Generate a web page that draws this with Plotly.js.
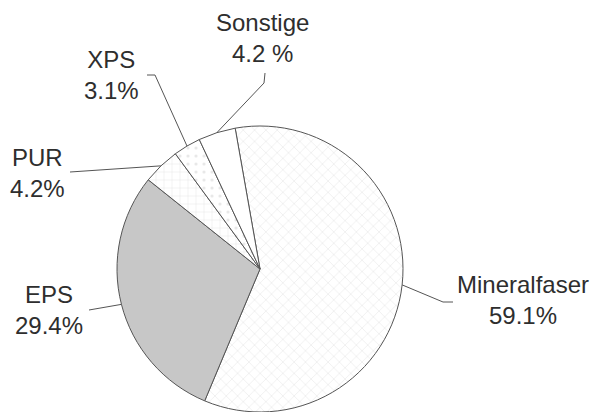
<!DOCTYPE html>
<html>
<head>
<meta charset="utf-8">
<script src="https://cdn.plot.ly/plotly-3.0.1.min.js"></script>
<style>
  html, body { margin: 0; padding: 0; background: #ffffff; }
  #chart { width: 596px; height: 412px; }
</style>
</head>
<body>
<div id="chart"></div>
<script>
// Dämmstoffe – Marktanteile in Prozent
const labels = ['Mineralfaser', 'EPS', 'PUR', 'XPS', 'Sonstige'];
const values = [59.1, 29.4, 4.2, 3.1, 4.2];
const pctSuffix = ['%', '%', '%', '%', ' %'];

// slice fills: colour and hatching per category
const fillColors = ['#ffffff', '#c7c7c7', '#ffffff', '#ffffff', '#ffffff'];
const patternShapes = ['x', '', '+', '.', ''];
const patternColors = ['#e3e3e3', '#c7c7c7', '#e6e6e6', '#e8e8e8', '#ffffff'];

// label block centres (px) and the bend points of each leader line (px)
const labelPos = [[523, 300], [49, 310], [37, 173], [111, 75], [262, 38]];
const leaderBends = [
  [[443, 302], [453, 302]],
  [[89, 310]],
  [[70, 172]],
  [[155, 75], [147, 75]],
  [[264, 83], [265, 73]]
];

const W = 596, H = 412;
const cx = 260, cy = 269, R = 143;
const rotation = -10;

const px2x = p => p / W;
const px2y = p => 1 - p / H;

const total = values.reduce((a, b) => a + b, 0);

// leader lines start at the outer edge of each slice's mid angle
const shapes = [];
let cum = 0;
values.forEach((v, i) => {
  const ang = (rotation + 360 * (cum + v / 2) / total) * Math.PI / 180;
  cum += v;
  const ex = cx + R * Math.sin(ang);
  const ey = cy - R * Math.cos(ang);
  let path = 'M ' + px2x(ex) + ',' + px2y(ey);
  leaderBends[i].forEach(p => { path += ' L ' + px2x(p[0]) + ',' + px2y(p[1]); });
  shapes.push({
    type: 'path', xref: 'paper', yref: 'paper', path: path,
    line: { color: '#555555', width: 1 }
  });
});

const annotations = labels.map((lab, i) => ({
  xref: 'paper', yref: 'paper',
  x: px2x(labelPos[i][0]), y: px2y(labelPos[i][1]),
  xanchor: 'center', yanchor: 'middle', align: 'center',
  showarrow: false,
  text: lab + '<br>' + values[i].toFixed(1) + pctSuffix[i],
  font: { family: 'Liberation Sans, Arial, sans-serif', size: 24, color: '#2e2e2e' }
}));

const trace = {
  type: 'pie',
  labels: labels,
  values: values,
  sort: false,
  direction: 'clockwise',
  rotation: rotation,
  textinfo: 'none',
  hoverinfo: 'label+percent',
  domain: { x: [px2x(cx - R), px2x(cx + R)], y: [px2y(cy + R), px2y(cy - R)] },
  marker: {
    colors: fillColors,
    line: { color: '#555555', width: 1 },
    pattern: {
      shape: patternShapes,
      fgcolor: patternColors,
      bgcolor: fillColors,
      size: 8,
      solidity: 0.12
    }
  }
};

Plotly.newPlot('chart', [trace], {
  width: W, height: H,
  margin: { l: 0, r: 0, t: 0, b: 0 },
  paper_bgcolor: '#ffffff',
  plot_bgcolor: '#ffffff',
  showlegend: false,
  shapes: shapes,
  annotations: annotations
}, { displayModeBar: false, staticPlot: true });
</script>
</body>
</html>
